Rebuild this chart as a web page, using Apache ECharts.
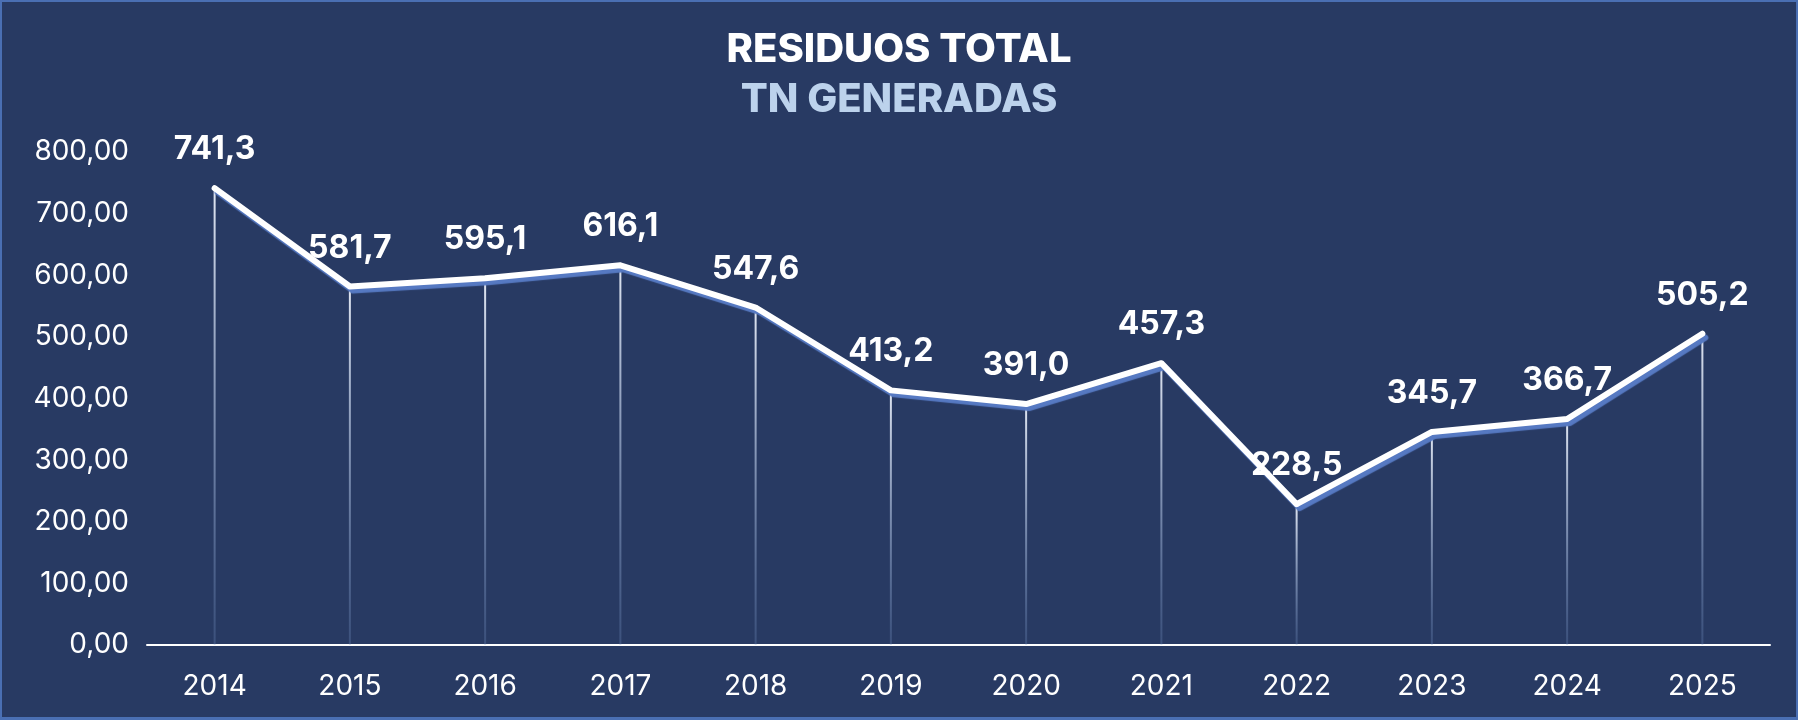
<!DOCTYPE html>
<html>
<head>
<meta charset="utf-8">
<script src="https://cdn.jsdelivr.net/npm/echarts@6/dist/echarts.min.js"></script>
<style>
  html, body { margin: 0; padding: 0; background: #283a63; }
  #chart { width: 1798px; height: 720px; box-sizing: border-box; border: 2px solid #4a6fb3; border-bottom-width: 3px; }
</style>
</head>
<body>
<div id="chart"></div>
<script>
// datos
var years = ['2014', '2015', '2016', '2017', '2018', '2019', '2020', '2021', '2022', '2023', '2024', '2025'];
var tonnes = [741.3, 581.7, 595.1, 616.1, 547.6, 413.2, 391.0, 457.3, 228.5, 345.7, 366.7, 505.2];

var fontName = 'Inter, "Noto Sans", sans-serif';
var chart = echarts.init(document.getElementById('chart'), null, { renderer: 'canvas' });

function coma(v, d) {
  return v.toFixed(d).replace('.', ',');
}

var option = {
  backgroundColor: '#283a63',
  title: {
    text: 'RESIDUOS TOTAL',
    subtext: 'TN GENERADAS',
    left: 'center',
    top: 22,
    itemGap: 8,
    textStyle: { color: '#ffffff', fontFamily: fontName, fontWeight: 800, fontSize: 40, lineHeight: 42 },
    subtextStyle: { color: '#bcd2ec', fontFamily: fontName, fontWeight: 800, fontSize: 40, lineHeight: 42 }
  },
  grid: { left: 145, right: 26, top: 150, bottom: 72 },
  xAxis: {
    type: 'category',
    data: years,
    boundaryGap: true,
    axisLine: { lineStyle: { color: '#ffffff', width: 2 } },
    axisTick: { show: false },
    axisLabel: { color: '#ffffff', fontFamily: fontName, fontSize: 28, margin: 28 }
  },
  yAxis: {
    type: 'value',
    min: 0,
    max: 800,
    interval: 100,
    splitLine: { show: false },
    axisLine: { show: false },
    axisTick: { show: false },
    axisLabel: {
      color: '#ffffff', fontFamily: fontName, fontSize: 28, margin: 18,
      formatter: function (v) { return coma(v, 2); }
    }
  },
  series: [
    {
      // líneas verticales desde cada punto
      type: 'bar',
      data: tonnes,
      barWidth: 2,
      silent: true,
      z: 1,
      itemStyle: {
        color: new echarts.graphic.LinearGradient(0, 0, 0, 1, [
          { offset: 0, color: 'rgba(235,240,250,0.95)' },
          { offset: 1, color: 'rgba(120,150,200,0.25)' }
        ])
      }
    },
    {
      type: 'line',
      data: tonnes,
      symbol: 'circle',
      symbolSize: 5,
      showSymbol: true,
      z: 3,
      itemStyle: { color: '#ffffff' },
      lineStyle: {
        color: '#ffffff',
        width: 6,
        cap: 'round',
        join: 'round',
        shadowColor: '#5679c2',
        shadowBlur: 1,
        shadowOffsetX: 3,
        shadowOffsetY: 4
      },
      label: {
        show: true,
        position: 'top',
        distance: 20,
        color: '#ffffff',
        fontFamily: fontName,
        fontWeight: 700,
        fontSize: 32,
        formatter: function (p) { return coma(p.value, 1); }
      },
      labelLayout: { hideOverlap: false }
    }
  ]
};
chart.setOption(option);
</script>
</body>
</html>
